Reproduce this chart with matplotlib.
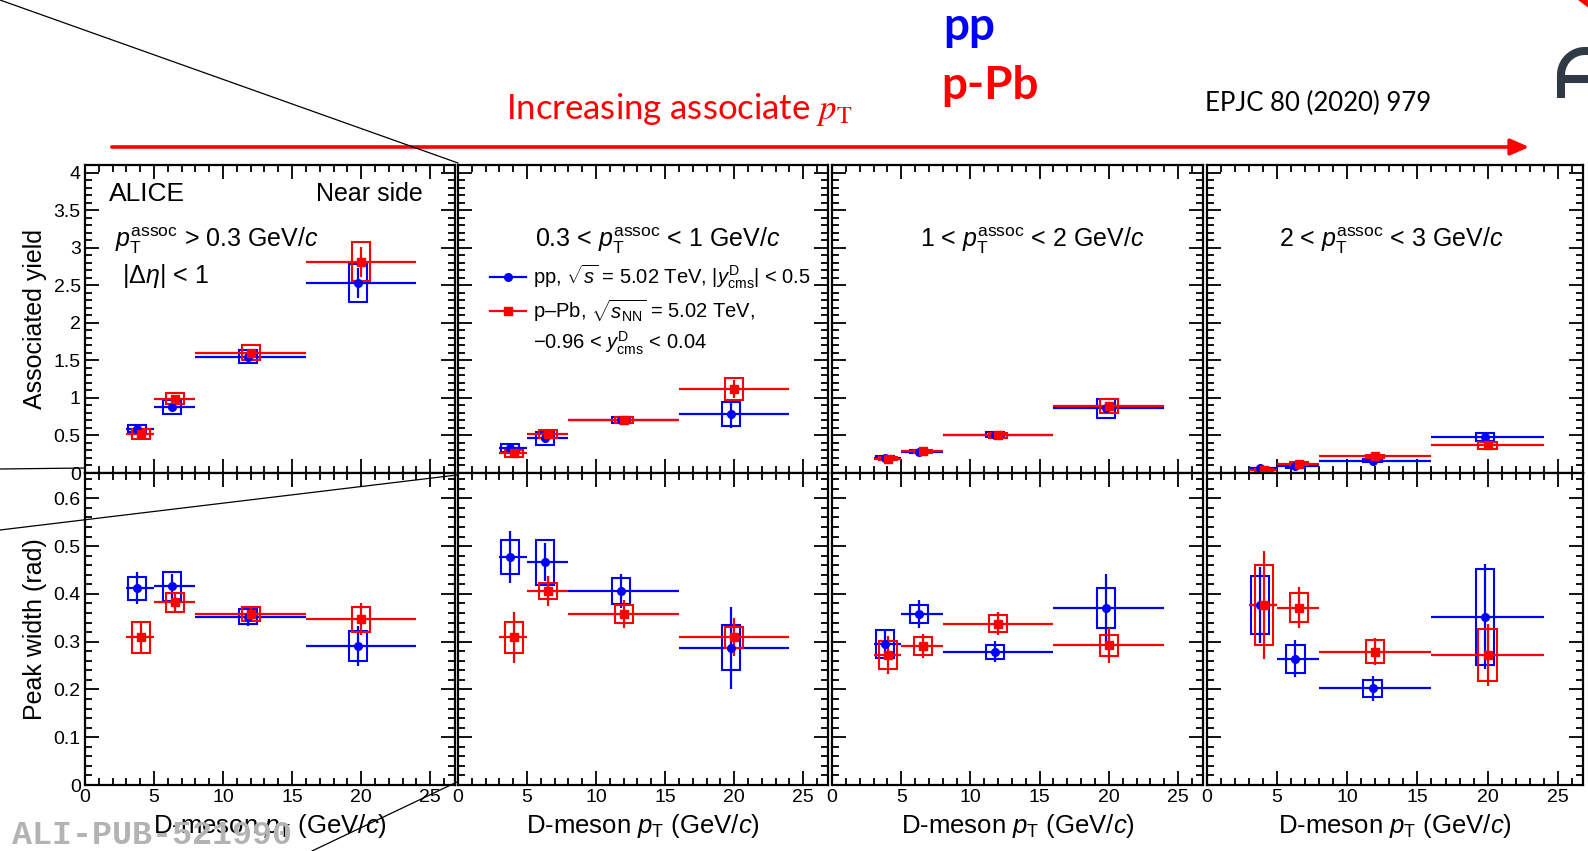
import matplotlib
matplotlib.use("Agg")
import numpy as np
import matplotlib.pyplot as plt
from matplotlib.patches import Rectangle, FancyArrowPatch
from matplotlib.lines import Line2D
from matplotlib.ticker import MultipleLocator

plt.rcParams.update({
    "font.family": "Liberation Sans",
    "mathtext.fontset": "custom",
    "mathtext.rm": "Liberation Sans",
    "mathtext.it": "Liberation Sans:italic",
    "mathtext.bf": "Liberation Sans:bold",
})

# D-meson pT bins
bin_lo = [3, 5, 8, 16]
bin_hi = [5, 8, 16, 24]
pp_x = [3.8, 6.3, 11.8, 19.8]
ppb_x = [4.05, 6.55, 12.0, 20.0]

assoc_labels = [r"$p_{\rm T}^{\rm assoc}$ > 0.3 GeV/$c$",
                r"0.3 < $p_{\rm T}^{\rm assoc}$ < 1 GeV/$c$",
                r"1 < $p_{\rm T}^{\rm assoc}$ < 2 GeV/$c$",
                r"2 < $p_{\rm T}^{\rm assoc}$ < 3 GeV/$c$"]

# near-side associated yield, one row per associated pT range
pp_yield = [[0.59, 0.88, 1.55, 2.53], [0.33, 0.46, 0.70, 0.79],
            [0.20, 0.28, 0.51, 0.86], [0.06, 0.09, 0.16, 0.48]]
pp_yield_stat = [[0.02, 0.03, 0.03, 0.20], [0.01, 0.02, 0.02, 0.19],
                 [0.01, 0.01, 0.01, 0.04], [0.01, 0.01, 0.01, 0.04]]
pp_yield_sys = [[0.05, 0.09, 0.09, 0.25], [0.05, 0.09, 0.04, 0.16],
                [0.02, 0.02, 0.03, 0.13], [0.01, 0.02, 0.02, 0.05]]
ppb_yield = [[0.52, 0.99, 1.60, 2.81], [0.26, 0.52, 0.71, 1.12],
             [0.19, 0.29, 0.50, 0.89], [0.04, 0.12, 0.22, 0.37]]
ppb_yield_stat = [[0.02, 0.03, 0.03, 0.20], [0.01, 0.02, 0.02, 0.12],
                  [0.01, 0.01, 0.01, 0.04], [0.01, 0.01, 0.01, 0.03]]
ppb_yield_sys = [[0.07, 0.07, 0.10, 0.26], [0.05, 0.05, 0.04, 0.15],
                 [0.02, 0.02, 0.03, 0.09], [0.01, 0.02, 0.02, 0.045]]

# near-side peak width (rad)
pp_width = [[0.412, 0.416, 0.352, 0.291], [0.477, 0.466, 0.406, 0.287],
            [0.295, 0.358, 0.279, 0.371], [0.377, 0.264, 0.202, 0.352]]
pp_width_stat = [[0.034, 0.025, 0.020, 0.042], [0.055, 0.040, 0.036, 0.086],
                 [0.030, 0.030, 0.022, 0.071], [0.080, 0.039, 0.027, 0.110]]
pp_width_sys = [[0.024, 0.030, 0.016, 0.031], [0.036, 0.047, 0.027, 0.047],
                [0.030, 0.018, 0.015, 0.042], [0.060, 0.029, 0.017, 0.100]]
ppb_width = [[0.309, 0.382, 0.358, 0.347], [0.309, 0.406, 0.358, 0.309],
             [0.272, 0.291, 0.338, 0.292], [0.377, 0.371, 0.279, 0.272]]
ppb_width_stat = [[0.035, 0.020, 0.015, 0.034], [0.053, 0.031, 0.029, 0.040],
                  [0.040, 0.026, 0.025, 0.037], [0.113, 0.043, 0.028, 0.064]]
ppb_width_sys = [[0.033, 0.020, 0.015, 0.026], [0.033, 0.017, 0.018, 0.022],
                 [0.030, 0.018, 0.017, 0.021], [0.083, 0.030, 0.024, 0.055]]

W, H = 1588, 851
BOX_HW = 0.65


def fx(px):
    return np.asarray(px) / W


def fy(py):
    return 1 - np.asarray(py) / H


def draw_series(ax, x, y, stat, sys, color, marker):
    xerr = [[xi - lo for xi, lo in zip(x, bin_lo)],
            [hi - xi for xi, hi in zip(x, bin_hi)]]
    ax.errorbar(x, y, xerr=xerr, yerr=stat, fmt=marker, color=color,
                ms=5.5, lw=1.6, capsize=0, zorder=3)
    for xi, yi, si in zip(x, y, sys):
        ax.add_patch(Rectangle((xi - BOX_HW, yi - si), 2 * BOX_HW, 2 * si,
                               fill=False, edgecolor=color, lw=1.5, zorder=3))


def style_axes(ax, ymax, ymajor, yminor, show_ylabels, show_xlabels):
    ax.set_xlim(0, 26.8)
    ax.set_ylim(0, ymax)
    ax.xaxis.set_major_locator(MultipleLocator(5))
    ax.xaxis.set_minor_locator(MultipleLocator(1))
    ax.yaxis.set_major_locator(MultipleLocator(ymajor))
    ax.yaxis.set_minor_locator(MultipleLocator(yminor))
    ax.tick_params(which="both", direction="in", top=True, right=True,
                   width=1.3, labelsize=14, pad=3)
    ax.tick_params(which="major", length=10)
    ax.tick_params(which="minor", length=5)
    ax.yaxis.set_major_formatter(plt.FuncFormatter(lambda v, p: f"{v:g}"))
    if not show_ylabels:
        ax.set_yticklabels([])
    if not show_xlabels:
        ax.set_xticklabels([])
    for s in ax.spines.values():
        s.set_linewidth(1.6)


fig = plt.figure(figsize=(W / 100, H / 100), dpi=100)

lefts = [85, 458, 832, 1207]
widths = [370, 370, 371, 376]

for i in range(4):
    top = fig.add_axes([fx(lefts[i]), fy(473), widths[i] / W, 308 / H])
    bot = fig.add_axes([fx(lefts[i]), fy(785), widths[i] / W, 312 / H])

    draw_series(top, pp_x, pp_yield[i], pp_yield_stat[i], pp_yield_sys[i], "#0000ff", "o")
    draw_series(top, ppb_x, ppb_yield[i], ppb_yield_stat[i], ppb_yield_sys[i], "#ff0000", "s")
    draw_series(bot, pp_x, pp_width[i], pp_width_stat[i], pp_width_sys[i], "#0000ff", "o")
    draw_series(bot, ppb_x, ppb_width[i], ppb_width_stat[i], ppb_width_sys[i], "#ff0000", "s")

    style_axes(top, 4.1, 0.5, 0.1, i == 0, False)
    style_axes(bot, 0.653, 0.1, 0.02, i == 0, True)
    bot.set_xlabel(r"D-meson $p_{\rm T}$ (GeV/$c$)", fontsize=18.5, labelpad=4)

    if i == 0:
        top.set_ylabel("Associated yield", fontsize=18, labelpad=5)
        bot.set_ylabel("Peak width (rad)", fontsize=18, labelpad=5)
        top.text(0.065, 0.905, "ALICE", transform=top.transAxes, fontsize=19, va="center")
        top.text(0.913, 0.905, "Near side", transform=top.transAxes, fontsize=18,
                 va="center", ha="right")
        top.text(0.08, 0.755, assoc_labels[0], transform=top.transAxes, fontsize=18,
                 va="center")
        top.text(0.10, 0.64, r"|$\Delta\eta$| < 1", transform=top.transAxes, fontsize=18,
                 va="center")
    else:
        xc = [0, 0.54, 0.54, 0.49][i]
        top.text(xc, 0.755, assoc_labels[i], transform=top.transAxes, fontsize=18,
                 va="center", ha="center")

    if i == 1:
        handles = [Line2D([], [], color="#0000ff", marker="o", ms=5.5, lw=1.6),
                   Line2D([], [], color="#ff0000", marker="s", ms=5.5, lw=1.6),
                   Line2D([], [], color="none")]
        labels = [r"pp, $\sqrt{s}$ = 5.02 TeV, |$y^{\rm D}_{\rm cms}$| < 0.5",
                  r"p–Pb, $\sqrt{s_{\rm NN}}$ = 5.02 TeV,",
                  r"−0.96 < $y^{\rm D}_{\rm cms}$ < 0.04"]
        top.legend(handles, labels, loc="upper left", bbox_to_anchor=(0.066, 0.71),
                   frameon=False, fontsize=14.5, handlelength=1.75, handletextpad=0.35,
                   labelspacing=0.28, borderaxespad=0)

# slide decorations
fig.add_artist(FancyArrowPatch((fx(109), fy(147)), (fx(1532), fy(147)),
                               transform=fig.transFigure, color="red", lw=2.6,
                               arrowstyle="-|>,head_length=0.8,head_width=0.35",
                               mutation_scale=14))
fig.text(fx(969), fy(27), "pp", color="#0000ff", fontsize=33, weight="bold",
         family="Lato", ha="center", va="center")
fig.text(fx(990), fy(86), "p-Pb", color="#ff0000", fontsize=33, weight="bold",
         family="Lato", ha="center", va="center")
fig.text(fx(679), fy(109), r"Increasing associate $p_\mathrm{T}$", color="#ff0000",
         fontsize=25, family="Lato", ha="center", va="center", math_fontfamily="stix")
fig.text(fx(1318), fy(103), "EPJC 80 (2020) 979", color="black", fontsize=18.5,
         family="Lato", ha="center", va="center")

# cut-off ALICE logo letter at the right edge
t = np.linspace(np.pi, np.pi / 2, 30)
logo_x = np.concatenate([[1561, 1561], 1585 + 24 * np.cos(t), [1592]])
logo_y = np.concatenate([[98, 75], 75 - 24 * np.sin(t), [51]])
fig.add_artist(Line2D(fx(logo_x), fy(logo_y), color="#2f3a45", lw=5.8,
                      transform=fig.transFigure, solid_capstyle="butt"))
fig.add_artist(Line2D(fx([1561, 1592]), fy([79, 79]), color="#2f3a45", lw=5.8,
                      transform=fig.transFigure))
fig.add_artist(Line2D(fx([1580, 1592]), fy([-2, 7]), color="red", lw=4,
                      transform=fig.transFigure))

# zoom callout lines from the slide
for (x0, y0), (x1, y1) in [((0, 0), (458, 163)), ((0, 469), (85, 468)),
                           ((0, 530), (457, 475)), ((312, 851), (457, 782))]:
    fig.add_artist(Line2D(fx([x0, x1]), fy([y0, y1]), color="black", lw=0.9,
                          transform=fig.transFigure, zorder=10))

fig.text(fx(12), fy(836), "ALI-PUB-521990", color="#b3b3b3", fontsize=24,
         family="Liberation Mono", weight="bold", va="center", zorder=11)

fig.savefig("out.png", dpi=100)
